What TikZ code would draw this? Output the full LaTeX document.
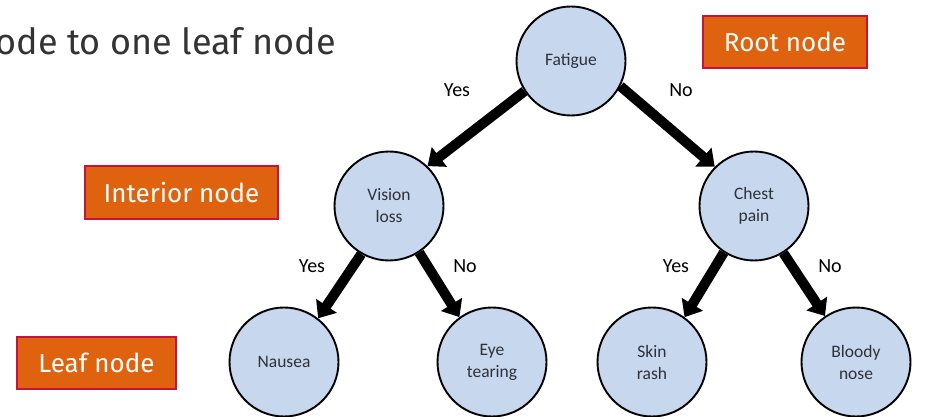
\documentclass[tikz,border=0pt]{standalone}
\usepackage{fontspec}
\setmainfont{Fira Sans}
\newfontfamily\treefont{Carlito}
\usetikzlibrary{arrows.meta}
\definecolor{nodeblue}{HTML}{C6D7EE}
\definecolor{tagorange}{HTML}{DF620E}
\definecolor{tagedge}{HTML}{C4143C}
\definecolor{headgrey}{HTML}{333333}
\definecolor{treetext}{HTML}{2E3139}
\tikzset{
  decision/.style={circle, draw=black, line width=1.9pt, fill=nodeblue,
    minimum size=109pt, inner sep=0pt, align=center, text=treetext,
    font=\treefont\fontsize{17.5}{22}\selectfont},
  branch/.style={line width=10pt, -{Triangle[width=24pt,length=15pt]}},
  answer/.style={font=\treefont\fontsize{20}{24}\selectfont, text=black},
  tag/.style={draw=tagedge, line width=1.2pt, fill=tagorange, text=white,
    inner sep=0pt, font=\fontsize{26}{30}\selectfont}
}
\begin{document}
\begin{tikzpicture}[x=1pt, y=-1pt]
\useasboundingbox (0,0) rectangle (930,417);
\clip (0,0) rectangle (930,417);

% heading line (continues from the left)
\node[anchor=base east, inner sep=0pt, text=headgrey,
      font=\fontsize{36}{40}\selectfont] (head) at (336,55) {ode to one leaf node};

% tree nodes
\node[decision] (fat) at (571,61)  {Fatigue};
\node[decision] (vis) at (389,206) {Vision\\loss};
\node[decision] (chp) at (754,206) {Chest\\pain};
\node[decision] (nau) at (284,362) {Nausea};
\node[decision] (eye) at (492,362) {Eye\\tearing};
\node[decision] (skn) at (652,362) {Skin\\rash};
\node[decision] (bld) at (856,362) {Bloody\\nose};

% branches
\draw[branch] (fat.213) -- (vis.46);
\draw[branch] (fat.333) -- (chp.135);
\draw[branch] (vis.240) -- (nau.52);
\draw[branch] (vis.303) -- (eye.126);
\draw[branch] (chp.237) -- (skn.54);
\draw[branch] (chp.302) -- (bld.124);

% branch answers
\node[answer] (a1) at (457,90)  {Yes};
\node[answer] (a2) at (681,90)  {No};
\node[answer] (a3) at (312,266) {Yes};
\node[answer] (a4) at (465,266) {No};
\node[answer] (a5) at (676,266) {Yes};
\node[answer] (a6) at (830,266) {No};

% explanatory tags
\node[tag, minimum width=164pt, minimum height=52pt] (root) at (785,42) {Root node};
\node[tag, minimum width=193pt, minimum height=53pt] (interior) at (181.5,192.5) {Interior node};
\node[tag, minimum width=159pt, minimum height=52pt] (leaf) at (96.5,363) {Leaf node};
\end{tikzpicture}
\end{document}
